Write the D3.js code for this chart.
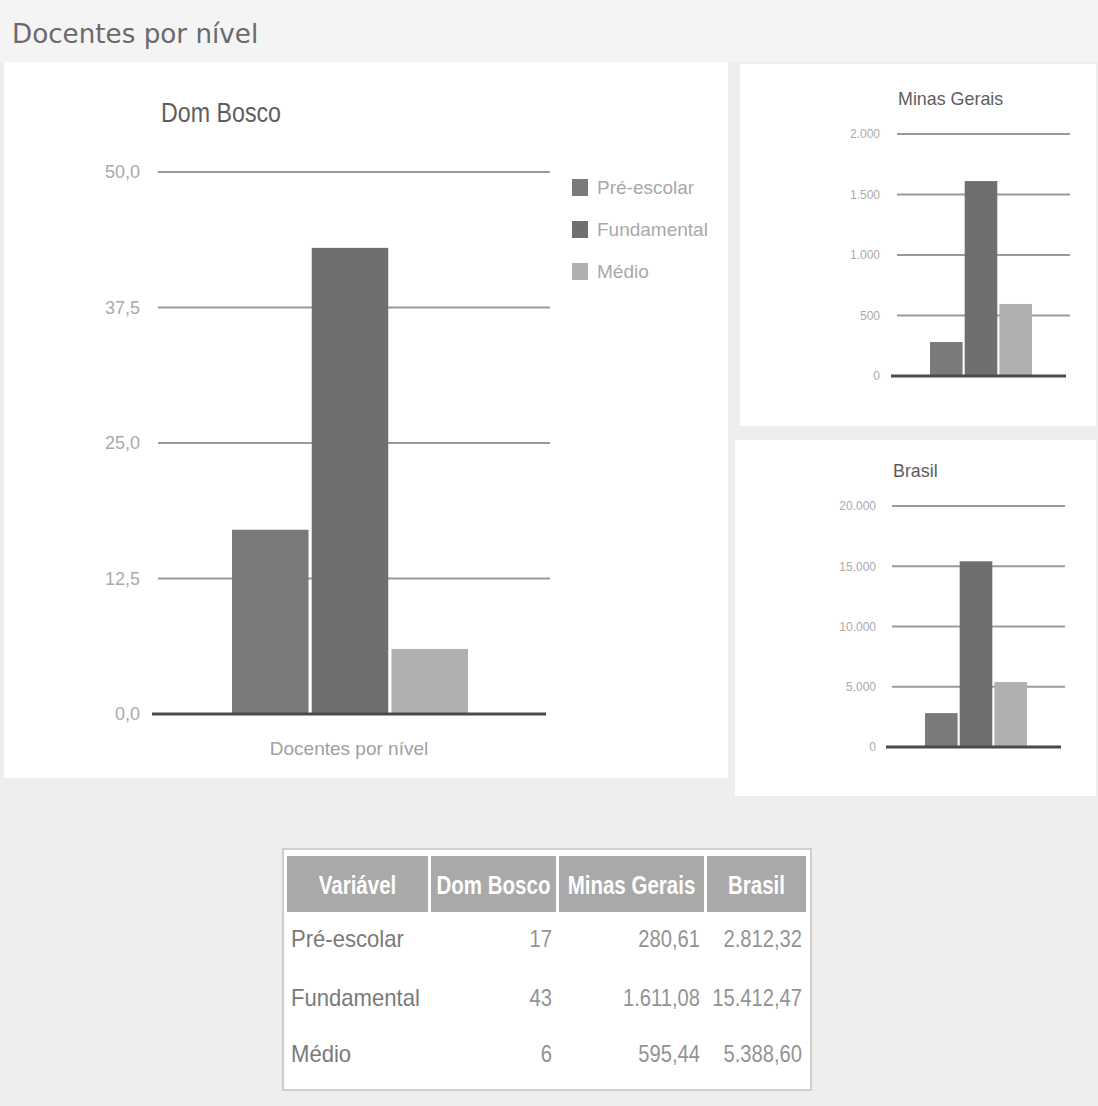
<!DOCTYPE html>
<html>
<head>
<meta charset="utf-8">
<script src="https://cdn.jsdelivr.net/npm/d3@7"></script>
<style>
  html, body { margin: 0; padding: 0; background: #f0f0f0; }
  svg { display: block; }
  text { font-family: "Liberation Sans", Arial, sans-serif; }
</style>
</head>
<body>
<svg id="chart" width="1098" height="1106"></svg>
<script>
// Levels of teaching and teacher counts per region
const levels = ["Pré-escolar", "Fundamental", "Médio"];
const domBosco = [17, 43, 6];
const minasGerais = [280.61, 1611.08, 595.44];
const brasil = [2812.32, 15412.47, 5388.60];

const domBoscoTicks = [0, 12.5, 25, 37.5, 50];
const minasTicks = [0, 500, 1000, 1500, 2000];
const brasilTicks = [0, 5000, 10000, 15000, 20000];

const tableHeader = ["Variável", "Dom Bosco", "Minas Gerais", "Brasil"];

const barColors = ["#7a7a7a", "#6f6f6f", "#b0b0b0"];

const ptBR = d3.formatLocale({ decimal: ",", thousands: ".", grouping: [3], currency: ["R$", ""] });
const fmt1 = ptBR.format(",.1f");
const fmt0 = ptBR.format(",.0f");
const fmt2 = ptBR.format(",.2f");

// Squeeze text horizontally to get a narrow-face look
function condense(sel, k) {
  sel.each(function () {
    const len = this.getComputedTextLength();
    d3.select(this).attr("textLength", len * k).attr("lengthAdjust", "spacingAndGlyphs");
  });
}

const svg = d3.select("#chart");

// Panels
svg.append("rect").attr("x", 0).attr("y", 0).attr("width", 1098).attr("height", 1106).attr("fill", "#eeeeee");
svg.append("rect").attr("x", 0).attr("y", 0).attr("width", 1098).attr("height", 62).attr("fill", "#f4f4f4");
svg.append("rect").attr("x", 4).attr("y", 62).attr("width", 724).attr("height", 716).attr("fill", "#ffffff");
svg.append("rect").attr("x", 740).attr("y", 64).attr("width", 356).attr("height", 362).attr("fill", "#ffffff");
svg.append("rect").attr("x", 735).attr("y", 440).attr("width", 361).attr("height", 356).attr("fill", "#ffffff");

// Page heading
svg.append("text")
  .attr("x", 12).attr("y", 43)
  .style("font-family", "'DejaVu Sans', 'Open Sans', sans-serif")
  .attr("font-size", 27)
  .attr("fill", "#6a6a6a")
  .text("Docentes por nível")
  .call(condense, 0.97);

// Generic column chart drawer
function columnChart(opts) {
  const g = svg.append("g");
  const x = d3.scaleBand().domain(levels).range([opts.barLeft, opts.barRight]).paddingInner(opts.gap);
  const y = d3.scaleLinear().domain([0, opts.max]).range([opts.bottom, opts.top]);

  // gridlines
  g.append("g")
    .selectAll("line")
    .data(opts.ticks.slice(1))
    .join("line")
    .attr("x1", opts.left).attr("x2", opts.right)
    .attr("y1", d => y(d)).attr("y2", d => y(d))
    .attr("stroke", "#9a9a9a")
    .attr("stroke-width", opts.gridWidth);

  // y labels via axis
  const axis = d3.axisLeft(y).tickValues(opts.ticks).tickFormat(opts.format).tickSize(0).tickPadding(0);
  const ax = g.append("g").attr("transform", `translate(${opts.labelX},0)`).call(axis);
  ax.select(".domain").remove();
  ax.selectAll("text")
    .attr("font-size", opts.tickSize)
    .attr("fill", "#aaaaaa")
    .style("font-family", "'Liberation Sans', sans-serif");

  // bars
  g.append("g")
    .selectAll("rect")
    .data(opts.values)
    .join("rect")
    .attr("x", (d, i) => x(levels[i]))
    .attr("width", x.bandwidth())
    .attr("y", d => y(d))
    .attr("height", d => opts.bottom - y(d))
    .attr("fill", (d, i) => barColors[i]);

  // baseline
  g.append("line")
    .attr("x1", opts.left - 6).attr("x2", opts.right - 4)
    .attr("y1", opts.bottom).attr("y2", opts.bottom)
    .attr("stroke", "#4a4a4a")
    .attr("stroke-width", opts.baseWidth);

  // title
  g.append("text")
    .attr("x", opts.titleX).attr("y", opts.titleY)
    .attr("font-size", opts.titleSize)
    .attr("fill", "#5e5e5e")
    .text(opts.title)
    .call(condense, opts.titleSqueeze);
  return g;
}

columnChart({
  title: "Dom Bosco", titleX: 161, titleY: 122, titleSize: 27, titleSqueeze: 0.86,
  values: domBosco, ticks: domBoscoTicks, max: 50, format: fmt1,
  left: 158, right: 550, barLeft: 232, barRight: 468, gap: 0.04,
  top: 172, bottom: 714, labelX: 140, tickSize: 18,
  gridWidth: 2, baseWidth: 3
});

columnChart({
  title: "Minas Gerais", titleX: 898, titleY: 105, titleSize: 19, titleSqueeze: 0.94,
  values: minasGerais, ticks: minasTicks, max: 2000, format: fmt0,
  left: 897, right: 1070, barLeft: 930, barRight: 1032, gap: 0.06,
  top: 134, bottom: 376, labelX: 880, tickSize: 12,
  gridWidth: 2, baseWidth: 3
});

columnChart({
  title: "Brasil", titleX: 893, titleY: 477, titleSize: 19, titleSqueeze: 0.94,
  values: brasil, ticks: brasilTicks, max: 20000, format: fmt0,
  left: 892, right: 1065, barLeft: 925, barRight: 1027, gap: 0.06,
  top: 506, bottom: 747, labelX: 876, tickSize: 12,
  gridWidth: 2, baseWidth: 3
});

// x-axis caption for the main chart
svg.append("text")
  .attr("x", 349).attr("y", 755)
  .attr("text-anchor", "middle")
  .attr("font-size", 19)
  .attr("fill", "#a0a0a0")
  .text("Docentes por nível");

// Legend
const legend = svg.append("g").selectAll("g").data(levels).join("g")
  .attr("transform", (d, i) => `translate(572, ${179 + i * 42})`);
legend.append("rect").attr("width", 16).attr("height", 17).attr("fill", (d, i) => barColors[i]);
legend.append("text")
  .attr("x", 25).attr("y", 15)
  .attr("font-size", 19)
  .attr("fill", "#a8a8a8")
  .text(d => d);

// Data table
const table = svg.append("g");
table.append("rect")
  .attr("x", 283).attr("y", 849).attr("width", 528).attr("height", 241)
  .attr("fill", "#ffffff").attr("stroke", "#cfcfcf").attr("stroke-width", 2);

const colEdges = [287, 431, 559, 707, 809];
const headerTop = 856, headerBottom = 912;
table.append("g").selectAll("rect").data(tableHeader).join("rect")
  .attr("x", (d, i) => colEdges[i])
  .attr("y", headerTop)
  .attr("width", (d, i) => colEdges[i + 1] - colEdges[i] - 3)
  .attr("height", headerBottom - headerTop)
  .attr("fill", "#a9a9a9");
table.append("g").selectAll("text").data(tableHeader).join("text")
  .attr("x", (d, i) => (colEdges[i] + colEdges[i + 1] - 3) / 2)
  .attr("y", 894)
  .attr("text-anchor", "middle")
  .attr("font-size", 25)
  .attr("font-weight", "bold")
  .attr("fill", "#ffffff")
  .text(d => d)
  .call(condense, 0.82);

const rows = levels.map((lv, i) => [lv, fmt0(domBosco[i]), fmt2(minasGerais[i]), fmt2(brasil[i])]);
const rowY = [947, 1006, 1062];
rows.forEach((r, ri) => {
  table.append("text")
    .attr("x", 291).attr("y", rowY[ri])
    .attr("font-size", 24).attr("fill", "#7a7a7a")
    .text(r[0])
    .call(condense, 0.92);
  [1, 2, 3].forEach(ci => {
    table.append("text")
      .attr("x", colEdges[ci + 1] - 7).attr("y", rowY[ri])
      .attr("text-anchor", "end")
      .attr("font-size", 24).attr("fill", "#939393")
      .text(r[ci])
      .call(condense, 0.84);
  });
});
</script>
</body>
</html>
